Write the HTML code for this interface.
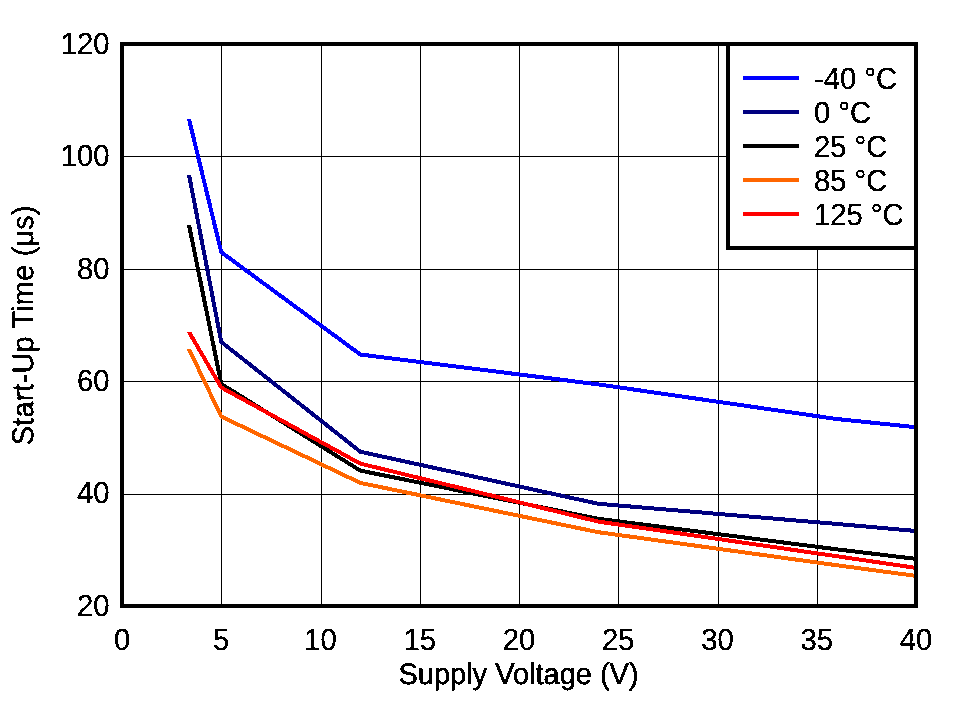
<!DOCTYPE html>
<html lang="en">
<head>
<meta charset="utf-8">
<title>Start-Up Time vs Supply Voltage</title>
<style>
html,body{margin:0;padding:0;background:#fff;}
body{width:956px;height:701px;overflow:hidden;}
svg{display:block;}
text{font-family:"Liberation Sans", Arial, sans-serif;font-size:30.5px;fill:#000;stroke:#000;stroke-width:0.3px;text-rendering:geometricPrecision;}
</style>
</head>
<body>
<svg width="956" height="701" viewBox="0 0 956 701">
<rect x="0" y="0" width="956" height="701" fill="#ffffff"/>
<g fill="#000" shape-rendering="crispEdges">
<rect x="221" y="44" width="1" height="562"/>
<rect x="321" y="44" width="1" height="562"/>
<rect x="420" y="44" width="1" height="562"/>
<rect x="519" y="44" width="1" height="562"/>
<rect x="618" y="44" width="1" height="562"/>
<rect x="718" y="44" width="1" height="562"/>
<rect x="817" y="44" width="1" height="562"/>
<rect x="122" y="494" width="794" height="1"/>
<rect x="122" y="381" width="794" height="1"/>
<rect x="122" y="269" width="794" height="1"/>
<rect x="122" y="156" width="794" height="1"/>
</g>
<g fill="none" stroke-width="4" stroke-linejoin="miter" stroke-linecap="butt" shape-rendering="crispEdges">
<clipPath id="c0"><rect x="122" y="119" width="794" height="487"/></clipPath>
<polyline clip-path="url(#c0)" stroke="#0000ff" points="187.8,114.1 221.3,252.2 360.3,354.5 598.4,384.4 836.6,419.0 916.0,427.2"/>
<clipPath id="c1"><rect x="122" y="175" width="794" height="431"/></clipPath>
<polyline clip-path="url(#c1)" stroke="#000080" points="188.1,170.1 221.3,342.0 360.3,451.7 598.4,503.8 836.6,523.9 916.0,531.0"/>
<clipPath id="c2"><rect x="122" y="225" width="794" height="381"/></clipPath>
<polyline clip-path="url(#c2)" stroke="#000000" points="188.0,220.1 221.3,384.0 360.3,470.6 598.4,518.8 836.6,549.3 916.0,558.9"/>
<clipPath id="c3"><rect x="122" y="349" width="794" height="257"/></clipPath>
<polyline clip-path="url(#c3)" stroke="#ff6600" points="186.8,344.5 221.3,416.6 360.3,482.9 598.4,532.2 836.6,565.2 916.0,575.9"/>
<clipPath id="c4"><rect x="122" y="332" width="794" height="274"/></clipPath>
<polyline clip-path="url(#c4)" stroke="#ff0000" points="186.5,327.7 221.3,387.5 360.3,463.6 598.4,521.6 836.6,556.2 916.0,567.9"/>
</g>
<rect x="122" y="44" width="794" height="562" fill="none" stroke="#000" stroke-width="4" shape-rendering="crispEdges"/>
<defs><filter id="al" x="0" y="0" width="956" height="701" filterUnits="userSpaceOnUse" color-interpolation-filters="sRGB"><feComponentTransfer><feFuncA type="discrete" tableValues="0 1"/></feComponentTransfer></filter></defs>
<rect x="728" y="44" width="188" height="204" fill="#fff" stroke="#000" stroke-width="4" shape-rendering="crispEdges"/>
<rect x="743" y="76" width="56" height="4" fill="#0000ff" shape-rendering="crispEdges"/>
<rect x="743" y="110" width="56" height="4" fill="#000080" shape-rendering="crispEdges"/>
<rect x="743" y="144" width="56" height="4" fill="#000000" shape-rendering="crispEdges"/>
<rect x="743" y="178" width="56" height="4" fill="#ff6600" shape-rendering="crispEdges"/>
<rect x="743" y="212" width="56" height="4" fill="#ff0000" shape-rendering="crispEdges"/>
<g filter="url(#al)">
<text transform="translate(814,89.0) scale(0.957,1)">-40 °C</text>
<text transform="translate(814,123.0) scale(0.957,1)">0 °C</text>
<text transform="translate(814,157.0) scale(0.957,1)">25 °C</text>
<text transform="translate(814,191.0) scale(0.957,1)">85 °C</text>
<text transform="translate(814,225.0) scale(0.957,1)">125 °C</text>
<text transform="translate(109.4,615.8) scale(0.957,1)" text-anchor="end">20</text>
<text transform="translate(109.4,503.4) scale(0.957,1)" text-anchor="end">40</text>
<text transform="translate(109.4,391.0) scale(0.957,1)" text-anchor="end">60</text>
<text transform="translate(109.4,278.6) scale(0.957,1)" text-anchor="end">80</text>
<text transform="translate(109.4,166.2) scale(0.957,1)" text-anchor="end">100</text>
<text transform="translate(109.4,53.8) scale(0.957,1)" text-anchor="end">120</text>
<text transform="translate(122.0,650) scale(0.957,1)" text-anchor="middle">0</text>
<text transform="translate(221.2,650) scale(0.957,1)" text-anchor="middle">5</text>
<text transform="translate(320.5,650) scale(0.957,1)" text-anchor="middle">10</text>
<text transform="translate(419.8,650) scale(0.957,1)" text-anchor="middle">15</text>
<text transform="translate(519.0,650) scale(0.957,1)" text-anchor="middle">20</text>
<text transform="translate(618.2,650) scale(0.957,1)" text-anchor="middle">25</text>
<text transform="translate(717.5,650) scale(0.957,1)" text-anchor="middle">30</text>
<text transform="translate(816.8,650) scale(0.957,1)" text-anchor="middle">35</text>
<text transform="translate(916.0,650) scale(0.957,1)" text-anchor="middle">40</text>
<text transform="translate(518.5,684.3) scale(1,1.03)" text-anchor="middle" style="font-size:29px;stroke-width:0.42px">Supply Voltage (V)</text>
<text transform="translate(33,325.4) rotate(-90) scale(1,1.03)" text-anchor="middle" style="font-size:29.3px;stroke-width:0.42px">Start-Up Time (μs)</text>
</g>
</svg>
</body>
</html>
